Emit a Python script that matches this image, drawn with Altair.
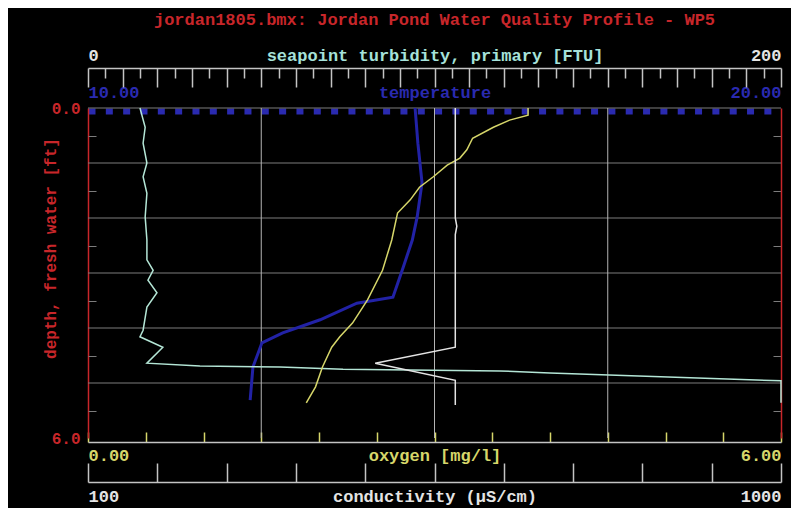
import altair as alt
import pandas as pd

TITLE = "jordan1805.bmx: Jordan Pond Water Quality Profile - WP5"

# grid positions (depth, oxygen)
depth_grid = [0, 1, 2, 3, 4, 5]
depth_half = [0.5, 1.5, 2.5, 3.5, 4.5, 5.5]
oxygen_grid = [1.5, 3.0, 4.5]

# axis ticks
turb_major = list(range(0, 201, 10))
turb_minor = list(range(5, 200, 10))
temp_labels = [10, 20]
oxy_ticks = [i * 0.5 for i in range(13)]
cond_ticks = list(range(100, 1001, 90))

# seapoint turbidity [FTU]
turb_depth = [0.0, 0.35, 0.64, 1.0, 1.25, 1.55, 1.98, 2.4, 2.76, 2.95, 3.13, 3.36,
              3.62, 4.04, 4.16, 4.35, 4.64, 4.69, 4.71, 4.75, 4.78, 4.82, 4.96, 5.36]
turb_val = [15.0, 16.5, 15.9, 17.0, 15.9, 17.0, 16.5, 17.0, 17.0, 18.8, 17.3, 19.9,
            17.0, 15.9, 15.0, 21.6, 17.0, 32.3, 55.4, 73.6, 118.9, 133.3, 200, 200]

# temperature
temp_depth = [0.0, 0.64, 1.36, 1.98, 2.4, 2.89, 3.44, 3.55, 3.85, 4.09, 4.27, 4.71, 5.31]
temp_val = [14.72, 14.76, 14.82, 14.75, 14.68, 14.55, 14.40, 13.88, 13.35, 12.81, 12.51, 12.38, 12.34]

# oxygen [mg/l]
ox_depth = [0.0, 0.13, 0.22, 0.35, 0.55, 0.76, 0.91, 1.04, 1.25, 1.44, 1.67, 1.91,
            2.40, 2.95, 3.49, 3.91, 4.16, 4.35, 4.71, 5.07, 5.36]
ox_val = [3.81, 3.81, 3.65, 3.51, 3.33, 3.28, 3.22, 3.11, 2.99, 2.87, 2.79, 2.68,
          2.63, 2.55, 2.42, 2.29, 2.18, 2.11, 2.03, 1.97, 1.89]

# conductivity [uS/cm]
cond_depth = [0.0, 2.0, 2.15, 2.3, 4.35, 4.64, 4.95, 5.4]
cond_val = [577, 577, 579, 577, 577, 473, 577, 577]

FONT = "Liberation Mono"
FS = 17
RED = "#c8262a"
GRAY = "#7c7c7c"
TURB = "#b4e6d6"
TURB_T = "#a6e2da"
BLUE = "#2222a6"
BLUE_AX = "#2a2ab0"
YEL = "#d6d66a"
WHITE = "#e4e4e4"
AX = "#c4c4c4"


def frame(depths, vals, name="v"):
    return pd.DataFrame({"i": list(range(len(depths))), "depth": depths, name: vals})


def yscale():
    return alt.Scale(domain=[0, 6], reverse=True)


txt = dict(labelFont=FONT, labelFontSize=FS, labelFontWeight="bold",
           titleFont=FONT, titleFontSize=FS, titleFontWeight="bold", grid=False)

hgrid = alt.Chart(pd.DataFrame({"depth": depth_grid})).mark_rule(
    color=GRAY, strokeWidth=1).encode(
    y=alt.Y("depth:Q", scale=yscale(), axis=alt.Axis(
        orient="left", values=[0, 6], format=".1f", labelColor=RED,
        labelFont=FONT, labelFontSize=16, labelFontWeight="bold", labelPadding=8,
        ticks=False, domainColor=RED, domainWidth=1.5, grid=False,
        title="depth, fresh water [ft]", titleColor=RED, titleFont=FONT,
        titleFontSize=16, titleFontWeight="bold", titleX=-38, titleY=140,
        titleAngle=270, titleBaseline="middle", titleAlign="center")))

vgrid = alt.Chart(pd.DataFrame({"ox": oxygen_grid})).mark_rule(
    color="#b4b4b4", strokeWidth=1).encode(
    x=alt.X("ox:Q", scale=alt.Scale(domain=[0, 6]), axis=None))

turb_minor_layer = alt.Chart(frame(turb_depth, turb_val, "tm")).mark_line(strokeOpacity=0).encode(
    x=alt.X("tm:Q", scale=alt.Scale(domain=[0, 200]), axis=alt.Axis(
        orient="bottom", offset=-370, values=turb_minor, tickSize=10, tickColor=AX,
        tickWidth=1.5, domain=False, labels=False, title="", grid=False)),
    y=alt.Y("depth:Q", scale=yscale(), axis=None),
    order="i:Q")

temp = alt.Chart(frame(temp_depth, temp_val)).mark_line(color=BLUE, strokeWidth=3).encode(
    x=alt.X("v:Q", scale=alt.Scale(domain=[10, 20]), axis=alt.Axis(
        orient="top", offset=-3, values=temp_labels, format=".2f", ticks=False,
        domainColor=BLUE_AX, domainWidth=6, domainDash=[7, 10.33],
        labelColor=BLUE_AX, labelFlush=True, labelPadding=19, labelBaseline="middle",
        title="temperature", titleColor=BLUE_AX, titleY=-19, titleBaseline="middle", **txt)),
    y=alt.Y("depth:Q", scale=yscale(), axis=alt.Axis(
        orient="left", offset=-693, values=depth_half, tickSize=8, tickColor=GRAY,
        domainColor=RED, domainWidth=1.5, labels=False, title="", grid=False)),
    order="i:Q")

turb = alt.Chart(frame(turb_depth, turb_val)).mark_line(color=TURB, strokeWidth=1.5).encode(
    x=alt.X("v:Q", scale=alt.Scale(domain=[0, 200]), axis=alt.Axis(
        orient="bottom", offset=-370, values=turb_major, tickSize=19, tickColor=AX,
        tickWidth=1.5, domainColor=AX, domainWidth=1.5,
        labelExpr="datum.value == 0 || datum.value == 200 ? datum.label : ''",
        labelColor=WHITE, labelFlush=True, labelPadding=-32, labelBaseline="middle",
        title="seapoint turbidity, primary [FTU]", titleColor=TURB_T, titleY=-13,
        titleBaseline="middle", **txt)),
    y=alt.Y("depth:Q", scale=yscale(), axis=alt.Axis(
        orient="right", offset=-693, values=depth_half, tickSize=8, tickColor=GRAY,
        domain=False, labels=False, title="", grid=False)),
    order="i:Q")

oxy = alt.Chart(frame(ox_depth, ox_val)).mark_line(color=YEL, strokeWidth=1.5).encode(
    x=alt.X("v:Q", scale=alt.Scale(domain=[0, 6]), axis=alt.Axis(
        orient="top", offset=-334, values=oxy_ticks, format=".2f", tickSize=10,
        tickColor=YEL, tickWidth=1.5, domainColor=AX, domainWidth=1.5,
        labelExpr="datum.value == 0 || datum.value == 6 ? datum.label : ''",
        labelColor=YEL, labelFlush=True, labelPadding=-23, labelBaseline="middle",
        title="oxygen [mg/l]", titleColor=YEL, titleY=13, titleBaseline="middle", **txt)),
    y=alt.Y("depth:Q", scale=yscale(), axis=None),
    order="i:Q")

cond = alt.Chart(frame(cond_depth, cond_val)).mark_line(color=WHITE, strokeWidth=1.5).encode(
    x=alt.X("v:Q", scale=alt.Scale(domain=[100, 1000]), axis=alt.Axis(
        orient="top", offset=-374, values=cond_ticks, format="d", tickSize=19,
        tickColor=AX, tickWidth=1.5, domainColor=AX, domainWidth=1.5,
        labelExpr="datum.value == 100 || datum.value == 1000 ? datum.label : ''",
        labelColor=WHITE, labelFlush=True, labelPadding=-33, labelBaseline="middle",
        title="conductivity (\u00b5S/cm)", titleColor=WHITE, titleY=14,
        titleBaseline="middle", **txt)),
    y=alt.Y("depth:Q", scale=yscale(), axis=None),
    order="i:Q")

chart = alt.layer(hgrid, vgrid, turb_minor_layer, temp, turb, oxy, cond).resolve_scale(
    x="independent").resolve_axis(x="independent", y="independent").properties(
    width=693, height=330,
    autosize=alt.AutoSizeParams(type="none"),
    padding={"left": 80, "top": 100, "right": 10, "bottom": 70},
    title=alt.TitleParams(TITLE, color=RED, font=FONT, fontSize=FS, fontWeight="bold",
                          anchor="middle", offset=17),
).configure(background="black").configure_view(stroke=None)

chart.save("out.html", embed_options={"renderer": "svg", "actions": False})
